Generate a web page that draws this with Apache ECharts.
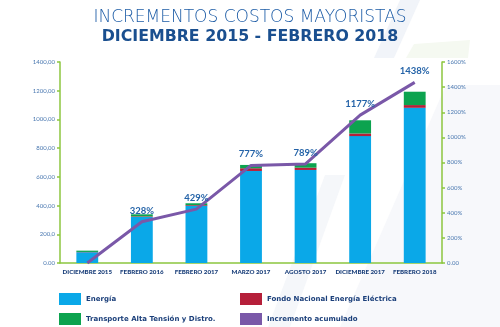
<!DOCTYPE html>
<html>
<head>
<meta charset="utf-8">
<script src="https://cdn.jsdelivr.net/npm/echarts@6/dist/echarts.min.js"></script>
<style>
html,body{margin:0;padding:0;background:#fff;}
#chart{width:500px;height:327px;}
</style>
</head>
<body>
<div id="chart"></div>
<script>
const categories = ["DICIEMBRE 2015", "FEBRERO 2016", "FEBRERO 2017", "MARZO 2017", "AGOSTO 2017", "DICIEMBRE 2017", "FEBRERO 2018"];
const energia = [75, 321, 398, 641, 648, 884, 1081];
const fondo = [2, 4, 5, 19, 16, 18, 19];
const transporte = [9, 14, 13, 23, 31, 92, 93];
const incremento = [0, 328, 429, 777, 789, 1177, 1438];
const leftTickLabels = ["0.00", "200,0", "400,00", "600,00", "800,00", "1000,00", "1200,00", "1400,00"];
const rightTickLabels = ["0.00", "200%", "400%", "600%", "800%", "1000%", "1200%", "1400%", "1600%"];

const FONT = "Lato, 'Open Sans', sans-serif";
const WIDE = "'DejaVu Sans', sans-serif";
const chart = echarts.init(document.getElementById('chart'), null, {renderer: 'canvas'});
const axisGreen = '#8cc63f';
const labelBlue = '#4a78b0';
const darkBlue = '#1a3f7a';

chart.setOption({
  backgroundColor: '#ffffff',
  animation: false,
  graphic: [
    {type: 'polygon', z: -10, silent: true, shape: {points: [[400,0],[420,0],[394,58],[374,58]]}, style: {fill: '#f1f4f9'}},
    {type: 'polygon', z: -10, silent: true, shape: {points: [[414,44],[470,40],[468,58],[406,58]]}, style: {fill: '#f5f9f1'}},
    {type: 'polygon', z: -10, silent: true, shape: {points: [[446,85],[500,85],[500,327],[340,327]]}, style: {fill: '#f7f8fb'}},
    {type: 'polygon', z: -10, silent: true, shape: {points: [[325,175],[345,175],[290,327],[268,327]]}, style: {fill: '#f5f7fa'}}
  ],
  title: [
    {text: 'INCREMENTOS COSTOS MAYORISTAS', left: 'center', top: 4,
     textStyle: {fontFamily: WIDE, fontSize: 17, fontWeight: 200, color: '#1d5ca6'}},
    {text: 'DICIEMBRE 2015 - FEBRERO 2018', left: 'center', top: 24,
     textStyle: {fontFamily: WIDE, fontSize: 15.8, fontWeight: 'bold', color: '#1a4f8f'}}
  ],
  legend: [
    {orient: 'vertical', left: 59, top: 293, padding: 0, itemWidth: 22, itemHeight: 12, itemGap: 8,
     icon: 'rect', data: ['Energía', 'Transporte Alta Tensión y Distro.'],
     textStyle: {fontFamily: WIDE, fontSize: 7, fontWeight: 'bold', color: '#1b3f7a'}},
    {orient: 'vertical', left: 240, top: 293, padding: 0, itemWidth: 22, itemHeight: 12, itemGap: 8,
     icon: 'rect', data: ['Fondo Nacional Energía Eléctrica', 'Incremento acumulado'],
     textStyle: {fontFamily: WIDE, fontSize: 7, fontWeight: 'bold', color: '#1b3f7a'}}
  ],
  grid: {left: 60, right: 58, top: 62, bottom: 64, containLabel: false},
  xAxis: {
    type: 'category', data: categories,
    axisLine: {lineStyle: {color: axisGreen, width: 1.5}},
    axisTick: {show: false},
    axisLabel: {fontFamily: FONT, fontSize: 6.2, fontWeight: 900, color: darkBlue, margin: 6, interval: 0}
  },
  yAxis: [
    {type: 'value', min: 0, max: 1400, interval: 200,
     axisLine: {show: true, lineStyle: {color: axisGreen, width: 1.5}},
     axisTick: {show: true, length: 3, lineStyle: {color: axisGreen, width: 1.5}},
     splitLine: {show: false},
     axisLabel: {fontFamily: FONT, fontSize: 6, color: labelBlue, margin: 5,
       formatter: v => leftTickLabels[Math.round(v / 200)]}},
    {type: 'value', min: 0, max: 1600, interval: 200, position: 'right',
     axisLine: {show: true, lineStyle: {color: axisGreen, width: 1.5}},
     axisTick: {show: true, length: 3, lineStyle: {color: axisGreen, width: 1.5}},
     splitLine: {show: false},
     axisLabel: {fontFamily: FONT, fontSize: 6, color: labelBlue, margin: 5,
       formatter: v => rightTickLabels[Math.round(v / 200)]}}
  ],
  series: [
    {name: 'Energía', type: 'bar', stack: 'c', data: energia, barWidth: '40%',
     itemStyle: {color: '#0aa8e8'}},
    {name: 'Fondo Nacional Energía Eléctrica', type: 'bar', stack: 'c', data: fondo,
     itemStyle: {color: '#b51f3a'}},
    {name: 'Transporte Alta Tensión y Distro.', type: 'bar', stack: 'c', data: transporte,
     itemStyle: {color: '#0ca34f'}},
    {name: 'Incremento acumulado', type: 'line', yAxisIndex: 1, data: incremento,
     showSymbol: true, symbol: 'circle', symbolSize: 0.1,
     lineStyle: {color: '#7a58a8', width: 3}, itemStyle: {color: '#7a58a8'},
     label: {show: true, position: 'top', distance: 6, fontFamily: FONT, fontSize: 9.5, fontWeight: 'bold',
       color: '#2463a8', formatter: p => p.value === 0 ? '' : p.value + '%'},
     z: 5}
  ]
});
</script>
</body>
</html>
